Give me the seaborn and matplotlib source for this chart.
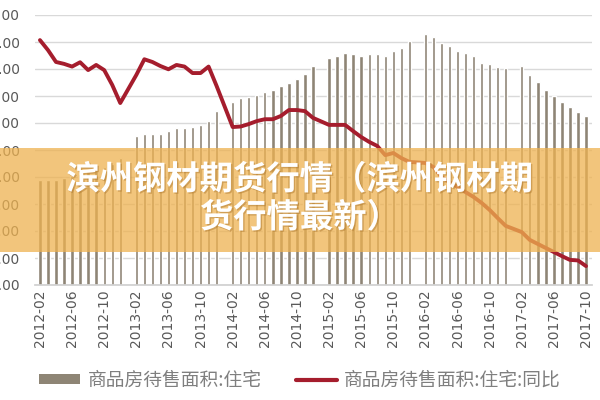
import matplotlib
matplotlib.use("Agg")
import matplotlib.pyplot as plt
import matplotlib.patheffects as pe
import numpy as np
import pandas as pd
import seaborn as sns
from matplotlib.lines import Line2D
from matplotlib.patches import Patch, Rectangle

# monthly categories, 2012-02 .. 2017-10 (January has no release)
MONTHS = list(pd.period_range("2012-02", "2017-10", freq="M").strftime("%Y-%m"))

# 商品房待售面积:住宅 (left axis)
AREA = [
    19400, 19400, 19500, 19800, 20200, 20600, 20900, 21300, 21900, 22400, 23500,
    None, 27600, 27900, 27900, 28000, 28600, 29000, 29000, 29200, 29600, 30400, 32300,
    None, 33900, 34600, 34800, 35200, 35800, 36200, 36900, 37500, 38100, 39100, 40500,
    None, 42000, 42500, 42900, 42800, 42500, 42800, 42800, 42400, 43300, 43900, 45100,
    None, 46500, 45900, 44800, 44200, 43300, 42900, 42400, 41200, 40900, 40300, 40100,
    None, 40600, 38900, 37600, 36200, 35000, 33900, 32900, 32100, 31300,
]

# 商品房待售面积:住宅:同比 (%), secondary axis
YOY = [
    60.7, 57.0, 52.6, 51.9, 50.9, 52.5, 49.6, 51.5, 49.6, 44.1, 37.4,
    None, 47.8, 53.6, 52.6, 51.1, 49.9, 51.5, 50.9, 48.5, 48.5, 50.9, 43.7,
    None, 28.5, 28.7, 29.6, 30.7, 31.4, 31.4, 32.6, 34.8, 34.8, 34.4, 31.9,
    None, 29.3, 29.3, 29.3, 27.0, 24.8, 23.0, 21.5, 18.1, 18.9, 17.0, 15.6,
    None, 15.2, 13.7, 10.0, 8.1, 6.3, 4.4, 2.6, 0.4, -2.2, -5.2, -8.1,
    None, -10.4, -13.3, -14.8, -16.3, -17.8, -19.3, -20.7, -20.9, -23.0,
]

Y_TICKS = [0, 5000, 10000, 15000, 20000, 25000, 30000, 35000, 40000, 45000, 50000]

TITLE_LINE1 = "滨州钢材期货行情（滨州钢材期"
TITLE_LINE2 = "货行情最新）"
LEGEND_LABELS = ["商品房待售面积:住宅", "商品房待售面积:住宅:同比"]

BAR_COLOR = "#8e8575"
LINE_COLOR = "#a51d2d"
TEXT_GRAY = "#595959"
CJK = ["Noto Sans CJK SC", "DejaVu Sans"]


def main() -> None:
    sns.set_theme(style="white")
    plt.rcParams["font.family"] = ["DejaVu Sans", "Noto Sans CJK SC"]

    df = pd.DataFrame({"month": MONTHS, "area": pd.to_numeric(pd.Series(AREA), errors="coerce")})
    yoy = pd.to_numeric(pd.Series(YOY), errors="coerce")
    line_df = pd.DataFrame({"pos": np.arange(len(MONTHS)), "yoy": yoy}).dropna()

    fig = plt.figure(figsize=(6, 4), dpi=100)
    ax = fig.add_axes([0.0583, 0.2875, 0.9284, 0.675])

    sns.barplot(
        data=df.dropna(),
        x="month",
        y="area",
        order=MONTHS,
        color=BAR_COLOR,
        saturation=1,
        width=0.42,
        errorbar=None,
        ax=ax,
    )
    ax.set_xlim(-0.62, 68.75)
    ax.set_ylim(0, 50000)
    ax.set_yticks(Y_TICKS)
    # the reference crops these labels at the left edge, only the trailing "00" shows
    ax.set_yticklabels([f"{v:,.2f}" for v in Y_TICKS])
    ax.tick_params(axis="y", length=0, pad=10.8, labelsize=10, labelcolor=TEXT_GRAY)
    ax.yaxis.grid(True, color="#d9d9d9", linewidth=1)
    ax.set_axisbelow(True)

    tick_pos = list(range(0, len(MONTHS), 4))
    ax.set_xticks(tick_pos)
    ax.set_xticklabels([MONTHS[i] for i in tick_pos], rotation=90)
    ax.tick_params(axis="x", length=0, pad=3, labelsize=10, labelcolor=TEXT_GRAY)
    ax.set_xticks([p - 0.5 for p in tick_pos], minor=True)
    ax.tick_params(axis="x", which="minor", length=3, direction="inout", color="#bfbfbf")
    ax.set_xlabel("")
    ax.set_ylabel("")
    for side in ["top", "right", "left"]:
        ax.spines[side].set_visible(False)
    ax.spines["bottom"].set_color("#d0d0d0")

    ax2 = ax.twinx()
    sns.lineplot(data=line_df, x="pos", y="yoy", color=LINE_COLOR, linewidth=2.8, ax=ax2)
    ax2.set_ylim(-30, 70)
    ax2.set_xlim(-0.62, 68.75)
    ax2.set_yticks([])
    ax2.set_ylabel("")
    for side in ["top", "right", "left", "bottom"]:
        ax2.spines[side].set_visible(False)

    handles = [
        Patch(facecolor=BAR_COLOR, edgecolor="none"),
        Line2D([0], [0], color=LINE_COLOR, linewidth=3),
    ]
    fig.legend(
        handles,
        LEGEND_LABELS,
        loc="center",
        bbox_to_anchor=(0.5, 0.05),
        ncol=2,
        frameon=False,
        prop={"family": CJK, "size": 13.5},
        labelcolor="#7f7f7f",
        handlelength=2.2,
        handleheight=0.45,
        handletextpad=0.4,
        columnspacing=1.8,
    )

    # translucent orange banner with the headline across the middle
    fig.add_artist(
        Rectangle((0, 0.37), 1, 0.26, transform=fig.transFigure,
                  facecolor=(238 / 255, 178 / 255, 80 / 255), alpha=0.75,
                  edgecolor="none", zorder=5)
    )
    shadow = [pe.withSimplePatchShadow(offset=(1, -1), shadow_rgbFace="#b07a30", alpha=0.5)]
    for y, txt in [(0.55, TITLE_LINE1), (0.455, TITLE_LINE2)]:
        fig.text(0.5, y, txt, ha="center", va="center", color="white",
                 fontsize=24, fontweight="bold", family=CJK, zorder=6,
                 path_effects=shadow)

    fig.savefig("out.png", dpi=100)
    plt.close(fig)


if __name__ == "__main__":
    main()
